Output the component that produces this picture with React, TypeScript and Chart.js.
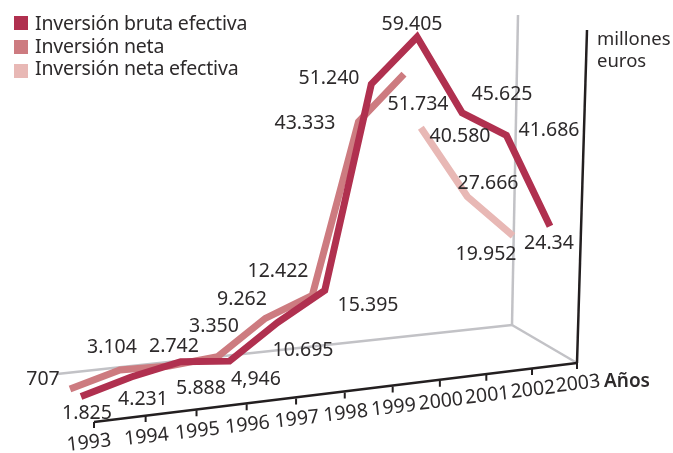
import React, { useEffect, useRef } from "react";
import { Chart, registerables } from "chart.js";

Chart.register(...registerables);

const years = ["1993", "1994", "1995", "1996", "1997", "1998", "1999", "2000", "2001", "2002", "2003"];
const brutaValues = [1825, 4231, 5888, 4946, 10695, 15395, 51240, 59405, 45625, 41686, 24340];
const netaValues = [707, 3104, 2742, 3350, 9262, 12422, 43333, 51734];
const netaEfectivaValues = [40580, 27666, 19952];
const netaEfectivaStart = 7;

const brutaLabels = ["1.825", "4.231", "5.888", "4,946", "10.695", "15.395", "51.240", "59.405", "45.625", "41.686", "24.34"];
const netaLabels = ["707", "3.104", "2.742", "3.350", "9.262", "12.422", "43.333", "51.734"];
const netaEfectivaLabels = ["40.580", "27.666", "19.952"];
const legendNames = ["Inversión bruta efectiva", "Inversión neta", "Inversión neta efectiva"];

// label anchors (layout only)
const brutaLabelPos = [[87, 413], [143, 399], [201, 388], [256, 379], [303, 350], [368, 305], [329, 78], [412, 24], [502, 94], [549, 130], [549, 243]];
const netaLabelPos = [[43, 379], [112, 347], [174, 346], [214, 326], [242, 299], [278, 271], [305, 123], [418, 104]];
const netaEfectivaLabelPos = [[460, 136], [488, 183], [486, 254]];

const COLORS = { bruta: "#b0304f", neta: "#cd7b80", efectiva: "#e8b8b5", wall: "#c2c2c6", axis: "#231f20", text: "#2d2a2b" };

// Oblique projection of (year index, value) on the page: the picture is a 3-D chart.
const tickX = (i: number) => 94 + 52 * i - 0.37 * i * i;
const tickY = (i: number) => 422 - 5.9 * i;
const scaleAt = (i: number) => 5.7 - 0.00007 * i * i * i * i;
type Plane = { dx0: number; dx1: number; dy0: number; dy1: number; gain: number };
const frontPlane: Plane = { dx0: 0, dx1: 0, dy0: 0, dy1: 0, gain: 1 };
const brutaPlane: Plane = { dx0: -13, dx1: -1.4, dy0: -15, dy1: 0, gain: 1 };
const netaPlane: Plane = { dx0: -24, dx1: -1.7, dy0: -29, dy1: 0, gain: 0.97 };
const efectivaPlane: Plane = { dx0: -19, dx1: 0, dy0: -28.5, dy1: 0, gain: 1 };
const wallPlane: Plane = { dx0: -37, dx1: -2.8, dy0: -48, dy1: 1, gain: 1 };
const project = (i: number, thousands: number, p: Plane) => ({
  x: tickX(i) + p.dx0 + p.dx1 * i,
  y: tickY(i) + p.dy0 + p.dy1 * i - thousands * scaleAt(i) * p.gain,
});

const wallTop = 310 / scaleAt(10);
const frontTop = 333 / scaleAt(10);

const line = (data: { x: number; y: number }[], color: string, width: number) => ({
  data,
  borderColor: color,
  backgroundColor: color,
  borderWidth: width,
  pointRadius: 0,
  tension: 0,
  borderCapStyle: "butt",
  borderJoinStyle: "miter",
  fill: false,
  clip: false,
  spanGaps: false,
});

const textPlugin = {
  id: "flatText",
  afterDatasetsDraw(chart: any) {
    const ctx = chart.ctx as CanvasRenderingContext2D;
    const sx = chart.scales.x;
    const sy = chart.scales.y;
    ctx.save();
    ctx.fillStyle = COLORS.text;
    ctx.textBaseline = "middle";
    ctx.textAlign = "center";
    ctx.font = '19.5px "Noto Sans"';
    const put = (labels: string[], pos: number[][]) =>
      labels.forEach((t, k) => ctx.fillText(t, sx.getPixelForValue(pos[k][0]), sy.getPixelForValue(pos[k][1])));
    put(brutaLabels, brutaLabelPos);
    put(netaLabels, netaLabelPos);
    put(netaEfectivaLabels, netaEfectivaLabelPos);

    years.forEach((year, i) => {
      ctx.save();
      ctx.translate(tickX(i) + (i === 0 ? -5 : 1), tickY(i) + 21);
      ctx.rotate(-0.11);
      ctx.fillText(year, 0, 0);
      ctx.restore();
    });

    ctx.textAlign = "left";
    ctx.textBaseline = "alphabetic";
    const boxes = [COLORS.bruta, COLORS.neta, COLORS.efectiva];
    const boxY = [16, 40, 64];
    const textY = [30, 53, 75];
    (ctx as any).letterSpacing = "-0.2px";
    legendNames.forEach((name, k) => {
      ctx.fillStyle = boxes[k];
      ctx.fillRect(14, boxY[k], 14, 14);
      ctx.fillStyle = COLORS.text;
      ctx.fillText(name, 35, textY[k]);
    });
    (ctx as any).letterSpacing = "0px";
    ctx.font = '18.5px "Noto Sans"';
    ctx.fillText("millones", 597, 45);
    ctx.fillText("euros", 597, 67);
    ctx.font = '600 19px "Noto Sans"';
    ctx.fillText("Años", 604, 387);
    ctx.restore();
  },
};

export default function App() {
  const ref = useRef<HTMLCanvasElement | null>(null);
  useEffect(() => {
    document.body.style.margin = "0";
    document.body.style.background = "#ffffff";
    const k = (v: number) => v / 1000;
    const last = years.length - 1;
    const tickData: { x: number; y: number }[] = [];
    years.forEach((_, i) => {
      const a = project(i, 0, frontPlane);
      tickData.push(a, { x: a.x, y: a.y + 6 }, { x: a.x, y: NaN });
    });
    const chart = new Chart(ref.current as HTMLCanvasElement, {
      type: "line",
      data: {
        datasets: [
          line(brutaValues.map((v, i) => project(i, k(v), brutaPlane)), COLORS.bruta, 7),
          line(netaValues.map((v, i) => project(i, k(v), netaPlane)), COLORS.neta, 7),
          line(netaEfectivaValues.map((v, i) => project(i + netaEfectivaStart, k(v), efectivaPlane)), COLORS.efectiva, 7),
          line([project(last, 0, frontPlane), { x: 587, y: project(last, frontTop, frontPlane).y }], COLORS.axis, 2.5),
          line([project(0, 0, frontPlane), project(last, 0, frontPlane)], COLORS.axis, 2.5),
          line(tickData, COLORS.axis, 2),
          line([project(last, 0, frontPlane), project(last, 0, wallPlane)], COLORS.wall, 2.5),
          line([project(0, 0, wallPlane), project(last, 0, wallPlane)], COLORS.wall, 2.5),
          line([project(last, 0, wallPlane), { x: 518, y: project(last, wallTop, wallPlane).y }], COLORS.wall, 2.5),
        ] as any,
      },
      options: {
        animation: false,
        responsive: false,
        parsing: { xAxisKey: "x", yAxisKey: "y" },
        layout: { padding: 0 },
        plugins: { legend: { display: false }, tooltip: { enabled: false }, title: { display: false } },
        scales: {
          x: { type: "linear", min: 0, max: 673, display: false },
          y: { type: "linear", min: 0, max: 453, reverse: true, display: false },
        },
      } as any,
      plugins: [textPlugin],
    });
    return () => chart.destroy();
  }, []);
  return <canvas ref={ref} width={673} height={453} style={{ display: "block" }} />;
}
